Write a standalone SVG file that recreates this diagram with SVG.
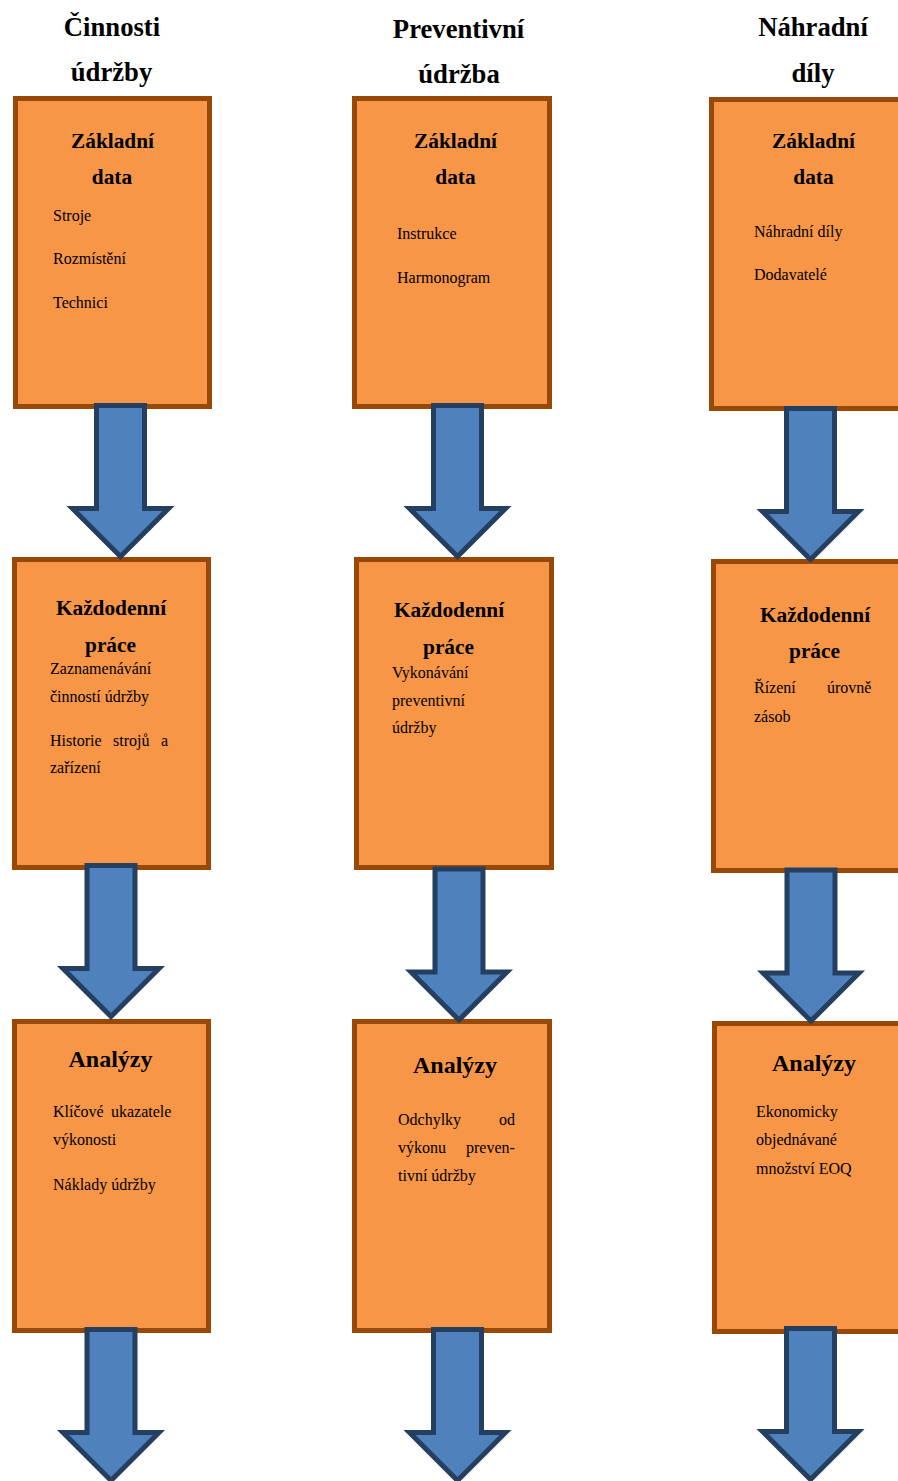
<svg xmlns="http://www.w3.org/2000/svg" width="898" height="1481" viewBox="0 0 898 1481">
<defs>
<style>
.box{fill:#F79646;stroke:#984807;stroke-width:5}
.arr{fill:#4F81BD;stroke:#243F60;stroke-width:5;stroke-linejoin:miter}
.hd{font-family:"Liberation Serif","Times New Roman",serif;font-weight:bold;font-size:26.67px;fill:#000;text-anchor:middle}
.tt{font-family:"Liberation Serif","Times New Roman",serif;font-weight:bold;font-size:21.33px;fill:#000;text-anchor:middle}
.ta{font-family:"Liberation Serif","Times New Roman",serif;font-weight:bold;font-size:24px;fill:#000;text-anchor:middle}
.bd{font-family:"Liberation Serif","Times New Roman",serif;font-size:16px;fill:#000}
</style>
<path id="arrow" d="M -24 0 H 24 V 103 H 48 L 0 151 L -48 103 H -24 Z"/>
</defs>
<rect width="898" height="1481" fill="#fff"/>

<g id="headers">
<text class="hd" x="112" y="36">Činnosti</text>
<text class="hd" x="111.5" y="81">údržby</text>
<text class="hd" x="458.5" y="38">Preventivní</text>
<text class="hd" x="459" y="83">údržba</text>
<text class="hd" x="813" y="36">Náhradní</text>
<text class="hd" x="813" y="82">díly</text>
</g>

<g id="node-a1">
<rect class="box" x="15.5" y="98.5" width="194" height="308"/>
<text class="tt" x="112.5" y="148">Základní</text>
<text class="tt" x="112" y="184">data</text>
<text class="bd" x="53" y="221">Stroje</text>
<text class="bd" x="53" y="264">Rozmístění</text>
<text class="bd" x="53" y="308">Technici</text>
</g>
<g id="node-a2">
<rect class="box" x="14.5" y="559.5" width="194" height="308"/>
<text class="tt" x="111" y="615">Každodenní</text>
<text class="tt" x="110.5" y="652">práce</text>
<text class="bd" x="50" y="674">Zaznamenávání</text>
<text class="bd" x="50" y="702">činností údržby</text>
<text class="bd" y="746"><tspan x="50">Historie</tspan><tspan x="113">strojů</tspan><tspan x="161">a</tspan></text>
<text class="bd" x="50" y="773">zařízení</text>
</g>
<g id="node-a3">
<rect class="box" x="14.5" y="1021.5" width="194" height="309"/>
<text class="ta" x="110.5" y="1067">Analýzy</text>
<text class="bd" y="1117"><tspan x="53">Klíčové</tspan><tspan x="111">ukazatele</tspan></text>
<text class="bd" x="53" y="1145">výkonosti</text>
<text class="bd" x="53" y="1190">Náklady údržby</text>
</g>

<g id="node-b1">
<rect class="box" x="354.5" y="98.5" width="195" height="308"/>
<text class="tt" x="455.5" y="148">Základní</text>
<text class="tt" x="455.5" y="184">data</text>
<text class="bd" x="397" y="239">Instrukce</text>
<text class="bd" x="397" y="283">Harmonogram</text>
</g>
<g id="node-b2">
<rect class="box" x="356.5" y="559.5" width="195" height="308"/>
<text class="tt" x="449" y="617">Každodenní</text>
<text class="tt" x="448.5" y="654">práce</text>
<text class="bd" x="392" y="678">Vykonávání</text>
<text class="bd" x="392" y="706">preventivní</text>
<text class="bd" x="392" y="733">údržby</text>
</g>
<g id="node-b3">
<rect class="box" x="354.5" y="1021.5" width="195" height="309"/>
<text class="ta" x="455" y="1073">Analýzy</text>
<text class="bd" y="1125"><tspan x="398">Odchylky</tspan><tspan x="499">od</tspan></text>
<text class="bd" y="1153"><tspan x="398">výkonu</tspan><tspan x="466">preven-</tspan></text>
<text class="bd" x="398" y="1181">tivní údržby</text>
</g>

<g id="node-c1">
<rect class="box" x="711.5" y="99.5" width="195" height="309"/>
<text class="tt" x="813.5" y="148">Základní</text>
<text class="tt" x="813.5" y="184">data</text>
<text class="bd" x="754" y="237">Náhradní díly</text>
<text class="bd" x="754" y="280">Dodavatelé</text>
</g>
<g id="node-c2">
<rect class="box" x="713.5" y="561.5" width="195" height="309"/>
<text class="tt" x="815" y="622">Každodenní</text>
<text class="tt" x="814.5" y="658">práce</text>
<text class="bd" y="693"><tspan x="754">Řízení</tspan><tspan x="827">úrovně</tspan></text>
<text class="bd" x="754" y="722">zásob</text>
</g>
<g id="node-c3">
<rect class="box" x="714.5" y="1023.5" width="195" height="308"/>
<text class="ta" x="814" y="1071">Analýzy</text>
<text class="bd" x="756" y="1117">Ekonomicky</text>
<text class="bd" x="756" y="1145">objednávané</text>
<text class="bd" x="756" y="1174">množství EOQ</text>
</g>

<g id="connectors">
<use href="#arrow" class="arr" transform="translate(120.5,405.5)"/>
<use href="#arrow" class="arr" transform="translate(111,865.5)"/>
<use href="#arrow" class="arr" transform="translate(111,1329.5)"/>
<use href="#arrow" class="arr" transform="translate(457.5,405.5)"/>
<use href="#arrow" class="arr" transform="translate(459,869)"/>
<use href="#arrow" class="arr" transform="translate(457.5,1329.5)"/>
<use href="#arrow" class="arr" transform="translate(810.5,408.5)"/>
<use href="#arrow" class="arr" transform="translate(811,870)"/>
<use href="#arrow" class="arr" transform="translate(810.5,1328.5)"/>
</g>
</svg>
